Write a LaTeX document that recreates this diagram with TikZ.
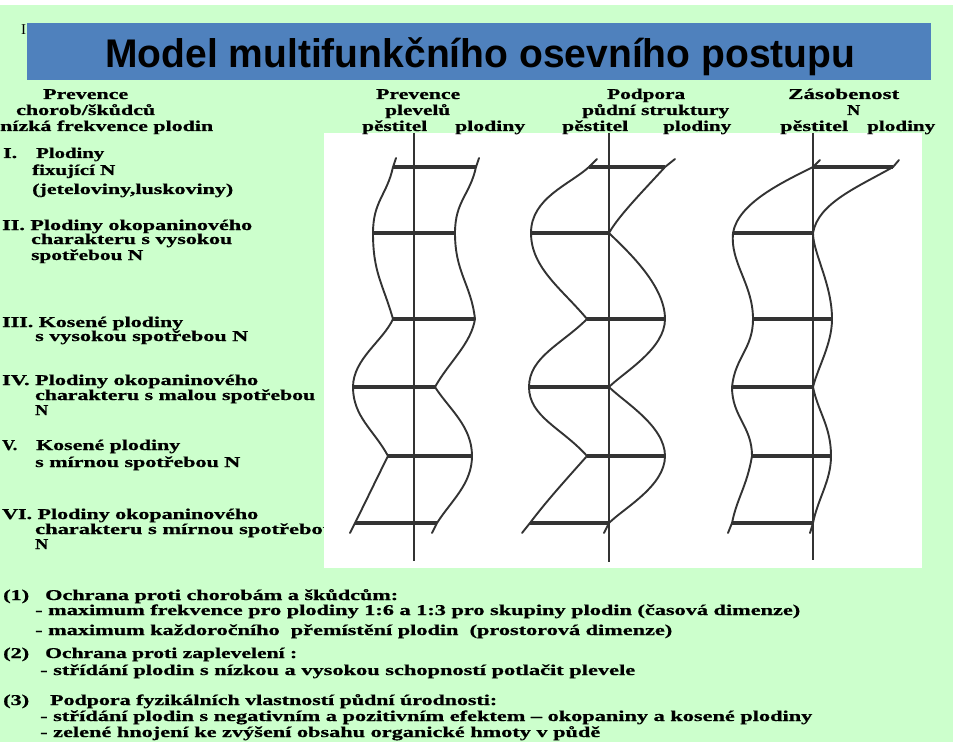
\documentclass[tikz,border=0pt]{standalone}
\usepackage{fontspec}
\setmainfont{Liberation Serif}[BoldFeatures={FakeBold=0.8}]
\newfontfamily\titlefont{Liberation Sans}
\usepackage{graphicx}
\definecolor{bggreen}{HTML}{CCFFCC}
\definecolor{titleblue}{HTML}{4F81BD}
\definecolor{ink}{HTML}{333333}
\newcommand\fitw[2]{\resizebox{#1pt}{\height}{#2}}
\begin{document}
\begin{tikzpicture}[x=1pt,y=-1pt,
  lbl/.style={anchor=base west, inner sep=0pt, font=\bfseries\fontsize{15}{18}\selectfont},
  curve/.style={draw=ink, line width=1.9pt, line join=round, line cap=round},
  bar/.style={draw=ink, line width=3.4pt},
  axisline/.style={draw=ink, line width=1.6pt}]
\useasboundingbox (0,0) rectangle (960,743);
\fill[white] (0,0) rectangle (960,743);
\fill[bggreen] (0,5) rectangle (953,742);
\fill[titleblue] (27,23) rectangle (931,80);
\node[anchor=base west, inner sep=0pt] (title) at (105,68)
  {\fitw{750}{\titlefont\bfseries\fontsize{40}{48}\selectfont Model multifunkčního osevního postupu}};
\node[anchor=base west, inner sep=0pt, font=\fontsize{15}{18}\selectfont] (cursor) at (21,35) {I};

% row labels
\node[lbl] (r1a) at (3,158) {\fitw{14}{I.}};
\node[lbl] (r1b) at (36,158) {\fitw{68}{Plodiny}};
\node[lbl] (r1c) at (32,175) {\fitw{83}{fixující N}};
\node[lbl] (r1d) at (32,194) {\fitw{201}{(jeteloviny,luskoviny)}};
\node[lbl] (r2a) at (2,230) {\fitw{250}{II. Plodiny okopaninového}};
\node[lbl] (r2b) at (31,244) {\fitw{201}{charakteru s vysokou}};
\node[lbl] (r2c) at (31,260) {\fitw{112}{spotřebou N}};
\node[lbl] (r3a) at (2,327) {\fitw{181}{III. Kosené plodiny}};
\node[lbl] (r3b) at (35,341) {\fitw{213}{s vysokou spotřebou N}};
\node[lbl] (r4a) at (2,385) {\fitw{256}{IV. Plodiny okopaninového}};
\node[lbl] (r4b) at (35,400) {\fitw{280}{charakteru s malou spotřebou}};
\node[lbl] (r4c) at (35,415) {\fitw{13}{N}};
\node[lbl] (r5a) at (2,450) {\fitw{15}{V.}};
\node[lbl] (r5b) at (36,450) {\fitw{144}{Kosené plodiny}};
\node[lbl] (r5c) at (35,467) {\fitw{205}{s mírnou spotřebou N}};
\node[lbl] (r6a) at (2,519) {\fitw{256}{VI. Plodiny okopaninového}};
\node[lbl] (r6b) at (35,534) {\fitw{300}{charakteru s mírnou spotřebou}};
\node[lbl] (r6c) at (35,549) {\fitw{13}{N}};

% scanned figure area
\fill[white] (324,133) rectangle (922,568);

% column 1
\draw[axisline] (414,133) -- (414,561);
\draw[curve] (396,158) -- (393,167)
  .. controls +(-6,28) and +(0,-32) .. (373,233)
  .. controls +(0,40) and +(-10,-35) .. (393,319)
  .. controls +(-10,22) and +(0,-28) .. (353,387)
  .. controls +(0,30) and +(-14,-26) .. (388,456)
  .. controls +(-12,24) and +(10,-20) .. (355,523) -- (350,533);
\draw[curve] (479,158) -- (476,167)
  .. controls +(-6,28) and +(0,-32) .. (455,233)
  .. controls +(0,40) and +(-4,-35) .. (475,319)
  .. controls +(-4,25) and +(14,-25) .. (435,387)
  .. controls +(14,22) and +(0,-30) .. (472,456)
  .. controls +(0,28) and +(14,-22) .. (437,523) -- (432,533);
\draw[bar] (393,167) -- (476,167);
\draw[bar] (373,233) -- (455,233);
\draw[bar] (393,319) -- (475,319);
\draw[bar] (353,387) -- (435,387);
\draw[bar] (388,456) -- (472,456);
\draw[bar] (355,523) -- (437,523);

% column 2
\draw[axisline] (609,133) -- (609,562);
\draw[curve] (597,159) -- (589,167)
  .. controls +(-20,18) and +(0,-35) .. (531,233)
  .. controls +(0,35) and +(-25,-30) .. (587,319)
  .. controls +(-25,25) and +(0,-30) .. (529,387)
  .. controls +(0,30) and +(-25,-28) .. (587,456)
  .. controls +(-25,28) and +(15,-20) .. (530,523) -- (522,533);
\draw[curve] (675,159) -- (665,167)
  .. controls +(-18,20) and +(10,-18) .. (609,233)
  .. controls +(15,15) and +(0,-35) .. (665,319)
  .. controls +(0,30) and +(15,-15) .. (609,387)
  .. controls +(15,15) and +(0,-30) .. (665,456)
  .. controls +(0,30) and +(15,-15) .. (609,523) -- (604,533);
\draw[bar] (589,167) -- (665,167);
\draw[bar] (531,233) -- (609,233);
\draw[bar] (587,319) -- (665,319);
\draw[bar] (529,387) -- (609,387);
\draw[bar] (587,456) -- (665,456);
\draw[bar] (530,523) -- (609,523);

% column 3
\draw[axisline] (813,133) -- (813,560);
\draw[curve] (820,160) -- (813,167)
  .. controls +(-30,15) and +(5,-30) .. (733,233)
  .. controls +(-3,30) and +(0,-35) .. (753,319)
  .. controls +(0,30) and +(3,-30) .. (732,387)
  .. controls +(0,30) and +(0,-30) .. (752,456)
  .. controls +(-5,30) and +(5,-25) .. (732,523) -- (728,533);
\draw[curve] (899,160) -- (893,167)
  .. controls +(-35,20) and +(5,-30) .. (813,233)
  .. controls +(0,20) and +(0,-35) .. (832,319)
  .. controls +(0,25) and +(5,-20) .. (813,387)
  .. controls +(5,25) and +(0,-30) .. (831,456)
  .. controls +(0,25) and +(5,-25) .. (813,523) -- (810,533);
\draw[bar] (813,167) -- (893,167);
\draw[bar] (733,233) -- (813,233);
\draw[bar] (753,319) -- (832,319);
\draw[bar] (732,387) -- (813,387);
\draw[bar] (752,456) -- (831,456);
\draw[bar] (732,523) -- (813,523);

% column headers
\node[lbl] (h1a) at (43,99) {\fitw{85}{Prevence}};
\node[lbl] (h1b) at (16,115) {\fitw{139}{chorob/škůdců}};
\node[lbl] (h1c) at (0,131) {\fitw{213}{nízká frekvence plodin}};
\node[lbl] (h2a) at (376,99) {\fitw{84}{Prevence}};
\node[lbl] (h2b) at (385,115) {\fitw{65}{plevelů}};
\node[lbl] (h2c) at (362,131) {\fitw{65}{pěstitel}};
\node[lbl] (h2d) at (455,131) {\fitw{70}{plodiny}};
\node[lbl] (h3a) at (607,99) {\fitw{78}{Podpora}};
\node[lbl] (h3b) at (582,115) {\fitw{147}{půdní struktury}};
\node[lbl] (h3c) at (562,131) {\fitw{66}{pěstitel}};
\node[lbl] (h3d) at (663,131) {\fitw{68}{plodiny}};
\node[lbl] (h4a) at (788,99) {\fitw{111}{Zásobenost}};
\node[lbl] (h4b) at (847,115) {\fitw{13}{N}};
\node[lbl] (h4c) at (780,131) {\fitw{68}{pěstitel}};
\node[lbl] (h4d) at (867,131) {\fitw{68}{plodiny}};

% bottom notes
\node[lbl] (b1a) at (3,600) {\fitw{26}{(1)}};
\node[lbl] (b1b) at (45,600) {\fitw{353}{Ochrana proti chorobám a škůdcům:}};
\node[lbl] (b2) at (35,615) {\fitw{765}{- maximum frekvence pro plodiny 1:6 a 1:3 pro skupiny plodin (časová dimenze)}};
\node[lbl] (b3) at (35,635) {\fitw{637}{- maximum každoročního\ \ přemístění plodin\ \ (prostorová dimenze)}};
\node[lbl] (b4a) at (3,658) {\fitw{26}{(2)}};
\node[lbl] (b4b) at (45,658) {\fitw{252}{Ochrana proti zaplevelení :}};
\node[lbl] (b5) at (40,675) {\fitw{595}{- střídání plodin s nízkou a vysokou schopností potlačit plevele}};
\node[lbl] (b6a) at (3,705) {\fitw{26}{(3)}};
\node[lbl] (b6b) at (50,705) {\fitw{447}{Podpora fyzikálních vlastností půdní úrodnosti:}};
\node[lbl] (b7) at (40,721) {\fitw{772}{- střídání plodin s negativním a pozitivním efektem – okopaniny a kosené plodiny}};
\node[lbl] (b8) at (40,737) {\fitw{560}{- zelené hnojení ke zvýšení obsahu organické hmoty v půdě}};
\end{tikzpicture}
\end{document}
